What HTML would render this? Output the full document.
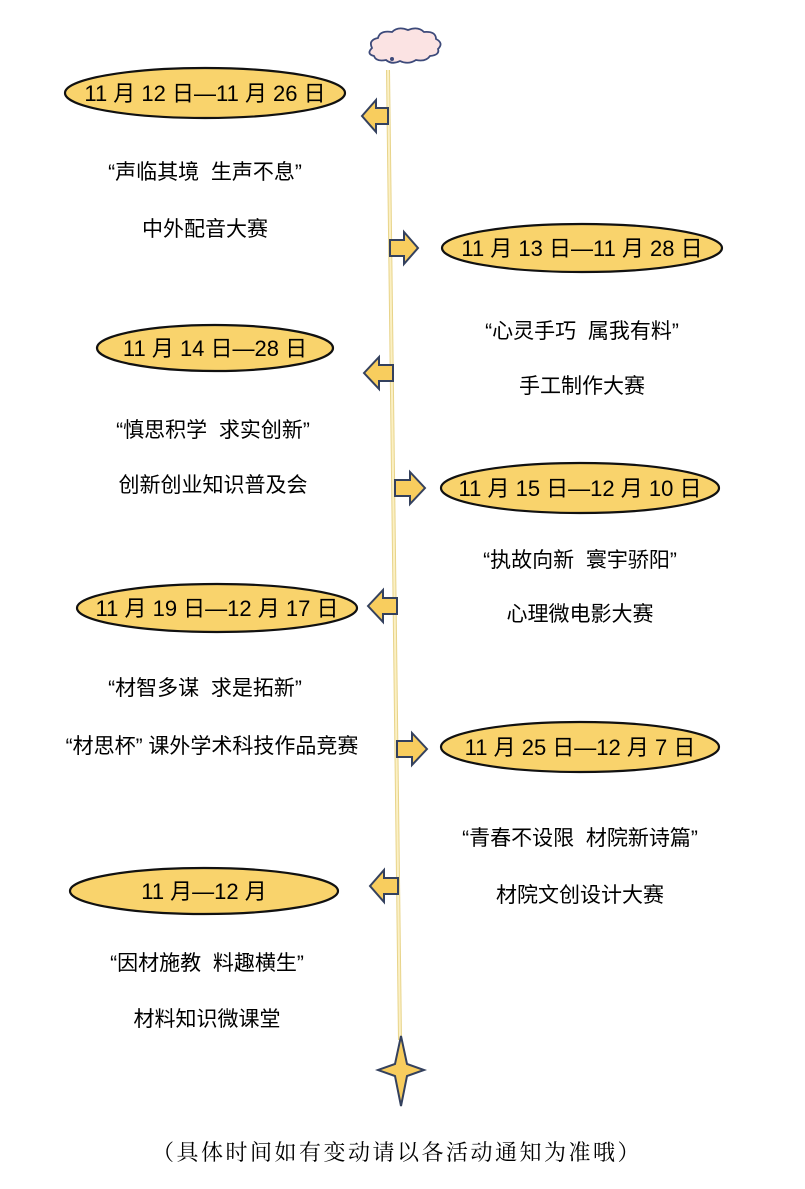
<!DOCTYPE html>
<html><head><meta charset="utf-8"><style>
html,body{margin:0;padding:0;background:#fff;}
svg{display:block;}
text{font-family:"Liberation Sans","Noto Sans CJK SC",sans-serif;fill:#000;white-space:pre;}
.d{font-size:22px;text-anchor:middle;}
.t{font-size:21px;text-anchor:middle;}
.o{fill:#f9d36c;stroke:#111;stroke-width:2.2;}
.a{fill:#f8cd5e;stroke:#34415e;stroke-width:2;}
</style></head><body>
<svg width="805" height="1189" viewBox="0 0 805 1189" xmlns="http://www.w3.org/2000/svg">
<path d="M372,48 q-4,-8 6,-10 q2,-8 14,-6 q6,-6 16,-2 q10,-4 16,2 q12,-1 12,7 q8,4 2,10 q2,6 -8,7 q-4,6 -14,4 q-8,5 -16,1 q-8,4 -14,-1 q-10,2 -12,-4 q-8,-2 -2,-8z" fill="#fbe3e3" stroke="#3d4a7a" stroke-width="1.8"/>
<circle cx="392" cy="59" r="2" fill="#3d4a7a"/>
<line x1="388" y1="70" x2="400" y2="1040" stroke="#e8d48a" stroke-width="4"/>
<line x1="388" y1="70" x2="400" y2="1040" stroke="#fbf0c4" stroke-width="2"/>
<path d="M401,1036 L407,1064 L424,1070 L407,1076 L401,1106 L395,1076 L378,1070 L395,1064 Z" fill="#f8cd5e" stroke="#34415e" stroke-width="2"/>
<path class="a" d="M362,116 L376,100 L376,108 L388,108 L388,124 L376,124 L376,132 Z"/>
<path class="a" d="M364,373 L379,357 L379,365 L393,365 L393,381 L379,381 L379,389 Z"/>
<path class="a" d="M368,606 L383,590 L383,598 L397,598 L397,614 L383,614 L383,622 Z"/>
<path class="a" d="M370,886 L384,870 L384,878 L398,878 L398,894 L384,894 L384,902 Z"/>
<path class="a" d="M418,248 L404,232 L404,240 L390,240 L390,256 L404,256 L404,264 Z"/>
<path class="a" d="M425,488 L410,472 L410,480 L395,480 L395,496 L410,496 L410,504 Z"/>
<path class="a" d="M427,749 L412,733 L412,741 L397,741 L397,757 L412,757 L412,765 Z"/>
<ellipse class="o" cx="205" cy="93" rx="140" ry="25"/>
<text class="d" x="205" y="101">11 月 12 日—11 月 26 日</text>
<ellipse class="o" cx="582" cy="248" rx="140" ry="24"/>
<text class="d" x="582" y="256">11 月 13 日—11 月 28 日</text>
<ellipse class="o" cx="215" cy="348" rx="118" ry="23"/>
<text class="d" x="215" y="356">11 月 14 日—28 日</text>
<ellipse class="o" cx="580" cy="488" rx="139" ry="25"/>
<text class="d" x="580" y="496">11 月 15 日—12 月 10 日</text>
<ellipse class="o" cx="217" cy="608" rx="140" ry="24"/>
<text class="d" x="217" y="616">11 月 19 日—12 月 17 日</text>
<ellipse class="o" cx="580" cy="747" rx="139" ry="25"/>
<text class="d" x="580" y="755">11 月 25 日—12 月 7 日</text>
<ellipse class="o" cx="204" cy="891" rx="134" ry="23"/>
<text class="d" x="204" y="899">11 月—12 月</text>
<text class="t" x="205" y="179" xml:space="preserve">“声临其境  生声不息”</text>
<text class="t" x="205" y="236">中外配音大赛</text>
<text class="t" x="582" y="338" xml:space="preserve">“心灵手巧  属我有料”</text>
<text class="t" x="582" y="393">手工制作大赛</text>
<text class="t" x="213" y="437" xml:space="preserve">“慎思积学  求实创新”</text>
<text class="t" x="213" y="492">创新创业知识普及会</text>
<text class="t" x="580" y="567" xml:space="preserve">“执故向新  寰宇骄阳”</text>
<text class="t" x="580" y="621">心理微电影大赛</text>
<text class="t" x="205" y="695" xml:space="preserve">“材智多谋  求是拓新”</text>
<text class="t" x="212" y="753">“材思杯” 课外学术科技作品竞赛</text>
<text class="t" x="580" y="845" xml:space="preserve">“青春不设限  材院新诗篇”</text>
<text class="t" x="580" y="902">材院文创设计大赛</text>
<text class="t" x="207" y="970" xml:space="preserve">“因材施教  料趣横生”</text>
<text class="t" x="207" y="1026">材料知识微课堂</text>
<text x="397" y="1160" style="font-family:'Liberation Serif','Noto Serif CJK SC',serif;font-size:22px;text-anchor:middle;letter-spacing:2.5px">（具体时间如有变动请以各活动通知为准哦）</text>
</svg>
</body></html>
